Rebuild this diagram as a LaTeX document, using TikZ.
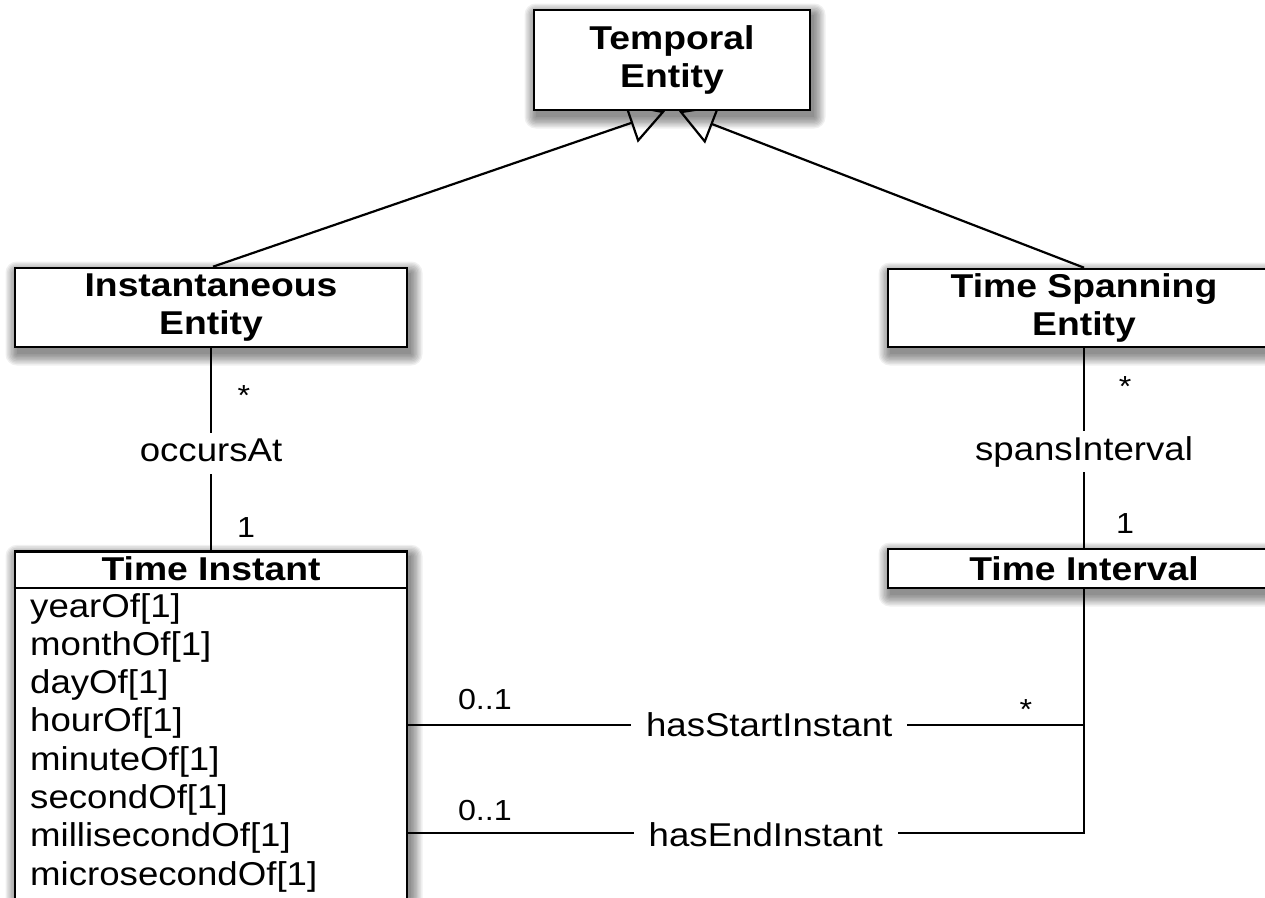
\documentclass[tikz,border=0pt]{standalone}
\usepackage{fontspec}
\setmainfont{Liberation Sans}[FakeStretch=1.11, BoldFeatures={FakeStretch=1.13}]
\usetikzlibrary{arrows.meta, calc}
\pgfdeclarelayer{paper}
\pgfdeclarelayer{wires}
\pgfsetlayers{paper,wires,main}
\tikzset{
  cls/.style={draw, line width=2.6pt, fill=white, inner sep=0pt, align=center,
    font=\bfseries\fontsize{33}{38.6}\selectfont},
  title/.style={inner sep=0pt, font=\bfseries\fontsize{33}{38.6}\selectfont},
  conn/.style={line width=2.2pt},
  gen/.style={conn, -{Triangle[open, length=36pt, width=41pt]}},
  lbl/.style={fill=white, inner xsep=15pt, inner ysep=5pt, text height=24pt, text depth=7pt,
    font=\fontsize{33}{38.6}\selectfont},
  mult/.style={inner sep=0pt, anchor=base, font=\fontsize{29}{30}\selectfont},
  attr/.style={inner sep=0pt, anchor=base west, font=\fontsize{33}{38.6}\selectfont},
}
% soft drop shadow under a class box: stacked translucent rectangles
\newcommand\softshadow[1]{%
  \begin{pgfonlayer}{paper}
    \foreach \r in {0,1.4,...,11.2}
      \fill[black, opacity=0.06, rounded corners=\r pt]
        ($(#1.north west)+(3-\r,6-\r)$) rectangle ($(#1.south east)+(3+\r,6+\r)$);
  \end{pgfonlayer}}

\begin{document}
\begin{tikzpicture}[x=1pt, y=-1pt]
\path[use as bounding box] (0,0) rectangle (1265,897);
\begin{pgfonlayer}{paper}
  \fill[white] (0,0) rectangle (1265,897);
\end{pgfonlayer}
\clip (0,0) rectangle (1265,897);

% classes
\node[cls, minimum width=276pt, minimum height=100pt] (temporal) at (672,60) {Temporal\\Entity};
\node[cls, minimum width=392pt, minimum height=79pt] (inst) at (211,307.5) {Instantaneous\\Entity};
\node[cls, minimum width=392pt, minimum height=78pt] (span) at (1084,308) {Time Spanning\\Entity};
\node[cls, minimum width=392pt, minimum height=380pt, anchor=north] (ti) at (211,550) {};
\node[title] (tihead) at (211,569) {Time Instant};
\draw[line width=2.6pt] ([yshift=-38pt]ti.north west) -- ([yshift=-38pt]ti.north east);
\node[cls, minimum width=392pt, minimum height=39pt] (interval) at (1084,568.5) {Time Interval};

\softshadow{temporal}
\softshadow{inst}
\softshadow{span}
\softshadow{ti}
\softshadow{interval}

% attributes of Time Instant
\foreach \a [count=\i from 0] in {yearOf, monthOf, dayOf, hourOf, minuteOf, secondOf, millisecondOf, microsecondOf}
  \node[attr] (attr\i) at (30, 617+38.3*\i) {\a[1]};

% associations and generalisations
\begin{pgfonlayer}{wires}
  \coordinate (tipL) at ([xshift=-7pt]temporal.south);
  \coordinate (tipR) at ([xshift=7pt]temporal.south);
  \draw[gen] ([xshift=2pt]inst.north) -- (tipL);
  \draw[gen] (span.north) -- (tipR);

  \draw[conn] (inst.south) -- node[lbl, pos=.52] {occursAt}
    node[mult, at start, xshift=33pt, yshift=-57pt] {*}
    node[mult, at end, xshift=35pt, yshift=13pt] {1} (ti.north);
  \draw[conn] (span.south) -- node[lbl, pos=.52] {spansInterval}
    node[mult, at start, xshift=41pt, yshift=-48pt] {*}
    node[mult, at end, xshift=41pt, yshift=14pt] {1} (interval.north);

  \coordinate (s1) at (407,725);
  \coordinate (e1) at (407,833);
  \draw[conn] (s1) -- node[lbl, pos=.535, anchor=base, yshift=-11pt] {hasStartInstant}
    node[mult, pos=.115, yshift=16pt] {0..1}
    node[mult, pos=.914, yshift=6pt] {*} (interval.south |- s1);
  \draw[conn] (interval.south) |- node[lbl, pos=.735, anchor=base, yshift=-13pt] {hasEndInstant}
    node[mult, pos=.9425, yshift=13pt] {0..1} (e1);
\end{pgfonlayer}
\end{tikzpicture}
\end{document}
